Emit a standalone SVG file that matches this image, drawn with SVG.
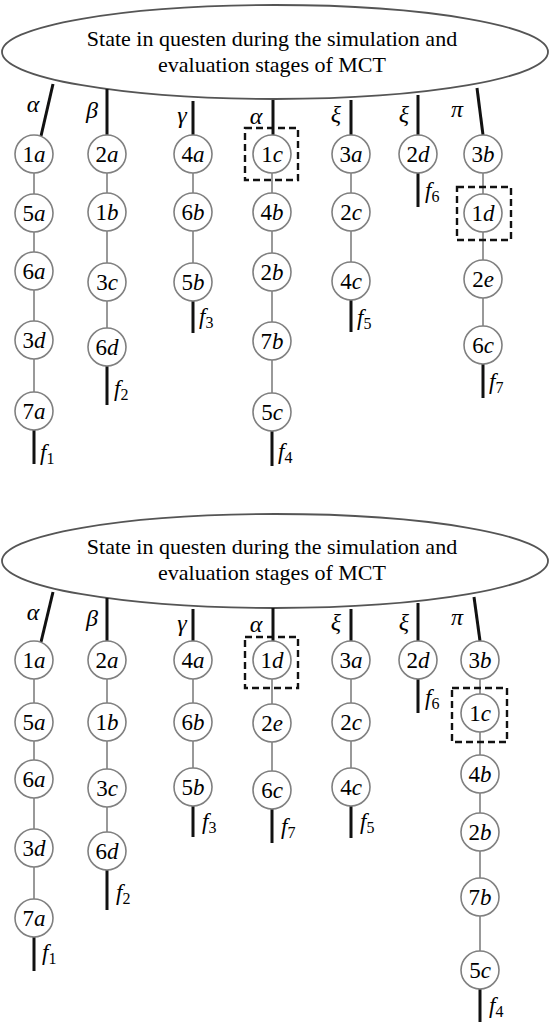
<svg xmlns="http://www.w3.org/2000/svg" width="550" height="1022" viewBox="0 0 550 1022">
<style>
.bg{fill:#fff}
.ell{fill:#fff;stroke:#555;stroke-width:1.8}
.title{font-family:"Liberation Serif",serif;font-size:22px;fill:#000;text-anchor:middle}
.n circle{fill:#fff;stroke:#808080;stroke-width:1.6}
.n text{font-family:"Liberation Serif",serif;font-size:23px;fill:#000;text-anchor:middle}
.i{font-style:italic}
.thin{stroke:#777;stroke-width:1.5;fill:none}
.thick{stroke:#111;stroke-width:3;fill:none}
.dash{fill:none;stroke:#111;stroke-width:2.4;stroke-dasharray:7 4}
.g{font-family:"Liberation Serif",serif;font-size:24px;font-style:italic;fill:#000;text-anchor:middle}
.f{font-family:"Liberation Serif",serif;font-size:23px;font-style:italic;fill:#000}
.sub{font-size:16px;font-style:normal}
</style>
<rect class="bg" x="0" y="0" width="550" height="1022"/>

<g id="top-root">
<ellipse class="ell" cx="275" cy="52" rx="273" ry="47"/>
<text class="title" x="272" y="46">State in questen during the simulation and</text>
<text class="title" x="272" y="72">evaluation stages of MCT</text>
</g>
<g id="bottom-root">
<ellipse class="ell" cx="275" cy="561" rx="273" ry="47"/>
<text class="title" x="272" y="554">State in questen during the simulation and</text>
<text class="title" x="272" y="580">evaluation stages of MCT</text>
</g>

<g id="connectors">
<!-- top panel: root links -->
<line class="thick" x1="53" y1="84" x2="41" y2="136"/>
<line class="thick" x1="107" y1="89" x2="107" y2="135"/>
<line class="thick" x1="193" y1="101" x2="193" y2="135"/>
<line class="thick" x1="273" y1="100" x2="273" y2="135"/>
<line class="thick" x1="351" y1="100" x2="351" y2="135"/>
<line class="thick" x1="418" y1="95" x2="418" y2="135"/>
<line class="thick" x1="477" y1="88" x2="483" y2="135"/>
<!-- top panel chains -->
<line class="thin" x1="34" y1="173" x2="34" y2="194"/>
<line class="thin" x1="34" y1="232" x2="34" y2="252"/>
<line class="thin" x1="34" y1="290" x2="34" y2="321"/>
<line class="thin" x1="34" y1="359" x2="34" y2="392"/>
<line class="thin" x1="107" y1="173" x2="107" y2="193"/>
<line class="thin" x1="107" y1="231" x2="107" y2="263"/>
<line class="thin" x1="107" y1="301" x2="107" y2="328"/>
<line class="thin" x1="193" y1="173" x2="193" y2="193"/>
<line class="thin" x1="193" y1="231" x2="193" y2="263"/>
<line class="thin" x1="272" y1="173" x2="272" y2="193"/>
<line class="thin" x1="272" y1="231" x2="272" y2="253"/>
<line class="thin" x1="272" y1="291" x2="272" y2="322"/>
<line class="thin" x1="272" y1="360" x2="272" y2="393"/>
<line class="thin" x1="351" y1="173" x2="351" y2="193"/>
<line class="thin" x1="351" y1="231" x2="351" y2="262"/>
<line class="thin" x1="483" y1="173" x2="483" y2="194"/>
<line class="thin" x1="483" y1="232" x2="483" y2="260"/>
<line class="thin" x1="483" y1="298" x2="483" y2="326"/>
<!-- top panel leaf links -->
<line class="thick" x1="34" y1="430" x2="34" y2="464"/>
<line class="thick" x1="107" y1="366" x2="107" y2="405"/>
<line class="thick" x1="193" y1="301" x2="193" y2="333"/>
<line class="thick" x1="272" y1="431" x2="272" y2="466"/>
<line class="thick" x1="351" y1="300" x2="351" y2="332"/>
<line class="thick" x1="418" y1="173" x2="418" y2="207"/>
<line class="thick" x1="483" y1="364" x2="483" y2="398"/>

<!-- bottom panel: root links -->
<line class="thick" x1="53" y1="592" x2="41" y2="642"/>
<line class="thick" x1="107" y1="598" x2="107" y2="641"/>
<line class="thick" x1="193" y1="609" x2="193" y2="641"/>
<line class="thick" x1="273" y1="608" x2="273" y2="641"/>
<line class="thick" x1="351" y1="609" x2="351" y2="641"/>
<line class="thick" x1="418" y1="603" x2="418" y2="641"/>
<line class="thick" x1="474" y1="597" x2="480" y2="641"/>
<!-- bottom panel chains -->
<line class="thin" x1="34" y1="679" x2="34" y2="703"/>
<line class="thin" x1="34" y1="741" x2="34" y2="760"/>
<line class="thin" x1="34" y1="798" x2="34" y2="829"/>
<line class="thin" x1="34" y1="867" x2="34" y2="899"/>
<line class="thin" x1="107" y1="679" x2="107" y2="703"/>
<line class="thin" x1="107" y1="741" x2="107" y2="769"/>
<line class="thin" x1="107" y1="807" x2="107" y2="832"/>
<line class="thin" x1="193" y1="679" x2="193" y2="703"/>
<line class="thin" x1="193" y1="741" x2="193" y2="768"/>
<line class="thin" x1="272" y1="679" x2="272" y2="704"/>
<line class="thin" x1="272" y1="742" x2="272" y2="771"/>
<line class="thin" x1="351" y1="679" x2="351" y2="703"/>
<line class="thin" x1="351" y1="741" x2="351" y2="768"/>
<line class="thin" x1="480" y1="679" x2="480" y2="694"/>
<line class="thin" x1="480" y1="732" x2="480" y2="755"/>
<line class="thin" x1="480" y1="793" x2="480" y2="813"/>
<line class="thin" x1="480" y1="851" x2="480" y2="878"/>
<line class="thin" x1="480" y1="916" x2="480" y2="951"/>
<!-- bottom panel leaf links -->
<line class="thick" x1="34" y1="937" x2="34" y2="971"/>
<line class="thick" x1="107" y1="870" x2="107" y2="910"/>
<line class="thick" x1="193" y1="806" x2="193" y2="837"/>
<line class="thick" x1="272" y1="809" x2="272" y2="843"/>
<line class="thick" x1="351" y1="806" x2="351" y2="838"/>
<line class="thick" x1="418" y1="679" x2="418" y2="713"/>
<line class="thick" x1="480" y1="989" x2="480" y2="1022"/>
</g>

<g id="edge-labels">
<text class="g" x="33" y="112">α</text>
<text class="g" x="92" y="118">β</text>
<text class="g" x="182" y="123">γ</text>
<text class="g" x="256" y="124">α</text>
<text class="g" x="336" y="122">ξ</text>
<text class="g" x="404" y="122">ξ</text>
<text class="g" x="457" y="117">π</text>
<text class="f" x="40" y="460">f<tspan class="sub" dy="4">1</tspan></text>
<text class="f" x="114" y="396">f<tspan class="sub" dy="4">2</tspan></text>
<text class="f" x="199" y="324">f<tspan class="sub" dy="4">3</tspan></text>
<text class="f" x="278" y="459">f<tspan class="sub" dy="4">4</tspan></text>
<text class="f" x="357" y="325">f<tspan class="sub" dy="4">5</tspan></text>
<text class="f" x="425" y="198">f<tspan class="sub" dy="4">6</tspan></text>
<text class="f" x="489" y="389">f<tspan class="sub" dy="4">7</tspan></text>

<text class="g" x="33" y="620">α</text>
<text class="g" x="92" y="626">β</text>
<text class="g" x="182" y="631">γ</text>
<text class="g" x="256" y="632">α</text>
<text class="g" x="336" y="630">ξ</text>
<text class="g" x="404" y="630">ξ</text>
<text class="g" x="457" y="625">π</text>
<text class="f" x="42" y="960">f<tspan class="sub" dy="4">1</tspan></text>
<text class="f" x="116" y="900">f<tspan class="sub" dy="4">2</tspan></text>
<text class="f" x="202" y="829">f<tspan class="sub" dy="4">3</tspan></text>
<text class="f" x="489" y="1013">f<tspan class="sub" dy="4">4</tspan></text>
<text class="f" x="360" y="829">f<tspan class="sub" dy="4">5</tspan></text>
<text class="f" x="425" y="705">f<tspan class="sub" dy="4">6</tspan></text>
<text class="f" x="281" y="834">f<tspan class="sub" dy="4">7</tspan></text>
</g>

<g id="highlight-boxes">
<rect class="dash" x="245" y="128" width="53" height="52"/>
<rect class="dash" x="457" y="187" width="54" height="53"/>
<rect class="dash" x="245" y="637" width="53" height="51"/>
<rect class="dash" x="452" y="688" width="55" height="54"/>
</g>

<!-- top panel nodes -->
<g id="t-1a" class="n"><circle cx="34" cy="154" r="19"/><text x="34" y="162">1<tspan class="i">a</tspan></text></g>
<g id="t-5a" class="n"><circle cx="34" cy="213" r="19"/><text x="34" y="221">5<tspan class="i">a</tspan></text></g>
<g id="t-6a" class="n"><circle cx="34" cy="271" r="19"/><text x="34" y="279">6<tspan class="i">a</tspan></text></g>
<g id="t-3d" class="n"><circle cx="34" cy="340" r="19"/><text x="34" y="348">3<tspan class="i">d</tspan></text></g>
<g id="t-7a" class="n"><circle cx="34" cy="411" r="19"/><text x="34" y="419">7<tspan class="i">a</tspan></text></g>

<g id="t-2a" class="n"><circle cx="107" cy="154" r="19"/><text x="107" y="162">2<tspan class="i">a</tspan></text></g>
<g id="t-1b" class="n"><circle cx="107" cy="212" r="19"/><text x="107" y="220">1<tspan class="i">b</tspan></text></g>
<g id="t-3c" class="n"><circle cx="107" cy="282" r="19"/><text x="107" y="290">3<tspan class="i">c</tspan></text></g>
<g id="t-6d" class="n"><circle cx="107" cy="347" r="19"/><text x="107" y="355">6<tspan class="i">d</tspan></text></g>

<g id="t-4a" class="n"><circle cx="193" cy="154" r="19"/><text x="193" y="162">4<tspan class="i">a</tspan></text></g>
<g id="t-6b" class="n"><circle cx="193" cy="212" r="19"/><text x="193" y="220">6<tspan class="i">b</tspan></text></g>
<g id="t-5b" class="n"><circle cx="193" cy="282" r="19"/><text x="193" y="290">5<tspan class="i">b</tspan></text></g>

<g id="t-1c" class="n"><circle cx="272" cy="154" r="19"/><text x="272" y="162">1<tspan class="i">c</tspan></text></g>
<g id="t-4b" class="n"><circle cx="272" cy="212" r="19"/><text x="272" y="220">4<tspan class="i">b</tspan></text></g>
<g id="t-2b" class="n"><circle cx="272" cy="272" r="19"/><text x="272" y="280">2<tspan class="i">b</tspan></text></g>
<g id="t-7b" class="n"><circle cx="272" cy="341" r="19"/><text x="272" y="349">7<tspan class="i">b</tspan></text></g>
<g id="t-5c" class="n"><circle cx="272" cy="412" r="19"/><text x="272" y="420">5<tspan class="i">c</tspan></text></g>

<g id="t-3a" class="n"><circle cx="351" cy="154" r="19"/><text x="351" y="162">3<tspan class="i">a</tspan></text></g>
<g id="t-2c" class="n"><circle cx="351" cy="212" r="19"/><text x="351" y="220">2<tspan class="i">c</tspan></text></g>
<g id="t-4c" class="n"><circle cx="351" cy="281" r="19"/><text x="351" y="289">4<tspan class="i">c</tspan></text></g>

<g id="t-2d" class="n"><circle cx="418" cy="154" r="19"/><text x="418" y="162">2<tspan class="i">d</tspan></text></g>

<g id="t-3b" class="n"><circle cx="483" cy="154" r="19"/><text x="483" y="162">3<tspan class="i">b</tspan></text></g>
<g id="t-1d" class="n"><circle cx="483" cy="213" r="19"/><text x="483" y="221">1<tspan class="i">d</tspan></text></g>
<g id="t-2e" class="n"><circle cx="483" cy="279" r="19"/><text x="483" y="287">2<tspan class="i">e</tspan></text></g>
<g id="t-6c" class="n"><circle cx="483" cy="345" r="19"/><text x="483" y="353">6<tspan class="i">c</tspan></text></g>

<!-- bottom panel nodes -->
<g id="b-1a" class="n"><circle cx="34" cy="660" r="19"/><text x="34" y="668">1<tspan class="i">a</tspan></text></g>
<g id="b-5a" class="n"><circle cx="34" cy="722" r="19"/><text x="34" y="730">5<tspan class="i">a</tspan></text></g>
<g id="b-6a" class="n"><circle cx="34" cy="779" r="19"/><text x="34" y="787">6<tspan class="i">a</tspan></text></g>
<g id="b-3d" class="n"><circle cx="34" cy="848" r="19"/><text x="34" y="856">3<tspan class="i">d</tspan></text></g>
<g id="b-7a" class="n"><circle cx="34" cy="918" r="19"/><text x="34" y="926">7<tspan class="i">a</tspan></text></g>

<g id="b-2a" class="n"><circle cx="107" cy="660" r="19"/><text x="107" y="668">2<tspan class="i">a</tspan></text></g>
<g id="b-1b" class="n"><circle cx="107" cy="722" r="19"/><text x="107" y="730">1<tspan class="i">b</tspan></text></g>
<g id="b-3c" class="n"><circle cx="107" cy="788" r="19"/><text x="107" y="796">3<tspan class="i">c</tspan></text></g>
<g id="b-6d" class="n"><circle cx="107" cy="851" r="19"/><text x="107" y="859">6<tspan class="i">d</tspan></text></g>

<g id="b-4a" class="n"><circle cx="193" cy="660" r="19"/><text x="193" y="668">4<tspan class="i">a</tspan></text></g>
<g id="b-6b" class="n"><circle cx="193" cy="722" r="19"/><text x="193" y="730">6<tspan class="i">b</tspan></text></g>
<g id="b-5b" class="n"><circle cx="193" cy="787" r="19"/><text x="193" y="795">5<tspan class="i">b</tspan></text></g>

<g id="b-1d" class="n"><circle cx="272" cy="660" r="19"/><text x="272" y="668">1<tspan class="i">d</tspan></text></g>
<g id="b-2e" class="n"><circle cx="272" cy="723" r="19"/><text x="272" y="731">2<tspan class="i">e</tspan></text></g>
<g id="b-6c" class="n"><circle cx="272" cy="790" r="19"/><text x="272" y="798">6<tspan class="i">c</tspan></text></g>

<g id="b-3a" class="n"><circle cx="351" cy="660" r="19"/><text x="351" y="668">3<tspan class="i">a</tspan></text></g>
<g id="b-2c" class="n"><circle cx="351" cy="722" r="19"/><text x="351" y="730">2<tspan class="i">c</tspan></text></g>
<g id="b-4c" class="n"><circle cx="351" cy="787" r="19"/><text x="351" y="795">4<tspan class="i">c</tspan></text></g>

<g id="b-2d" class="n"><circle cx="418" cy="660" r="19"/><text x="418" y="668">2<tspan class="i">d</tspan></text></g>

<g id="b-3b" class="n"><circle cx="480" cy="660" r="19"/><text x="480" y="668">3<tspan class="i">b</tspan></text></g>
<g id="b-1c" class="n"><circle cx="480" cy="713" r="19"/><text x="480" y="721">1<tspan class="i">c</tspan></text></g>
<g id="b-4b" class="n"><circle cx="480" cy="774" r="19"/><text x="480" y="782">4<tspan class="i">b</tspan></text></g>
<g id="b-2b" class="n"><circle cx="480" cy="832" r="19"/><text x="480" y="840">2<tspan class="i">b</tspan></text></g>
<g id="b-7b" class="n"><circle cx="480" cy="897" r="19"/><text x="480" y="905">7<tspan class="i">b</tspan></text></g>
<g id="b-5c" class="n"><circle cx="480" cy="970" r="19"/><text x="480" y="978">5<tspan class="i">c</tspan></text></g>
</svg>
